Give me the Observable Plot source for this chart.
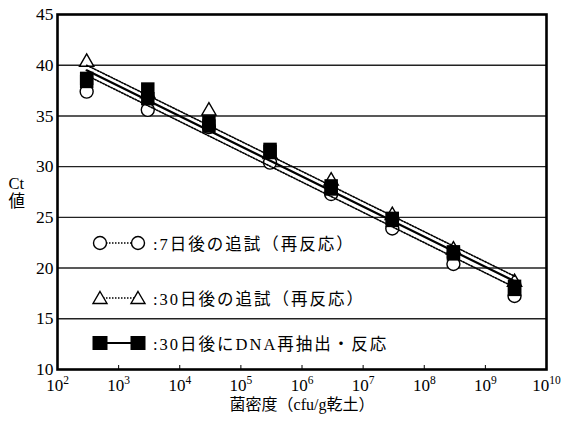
<!DOCTYPE html>
<html><head><meta charset="utf-8">
<script src="https://cdn.jsdelivr.net/npm/d3@7"></script>
<script src="https://cdn.jsdelivr.net/npm/@observablehq/plot@0.6"></script>
<style>
body{margin:0;background:#fff;}
#wrap{position:relative;width:563px;height:423px;}
.leg{position:absolute;left:90px;display:flex;align-items:center;font-family:"Liberation Serif","Noto Sans CJK JP",serif;font-size:16.5px;letter-spacing:2px;color:#000;white-space:nowrap;}
.leg svg{display:block;}
</style>
</head><body>
<div id="wrap"></div>
<script>
// Data
const density = [3e2, 3e3, 3e4, 3e5, 3e6, 3e7, 3e8, 3e9];
const ct7day = [37.4, 35.6, 33.9, 30.4, 27.3, 23.9, 20.4, 17.25];
const ct30day = [40.3, 37.2, 35.5, 31.2, 28.6, 25.2, 21.8, 18.6];
const ctReextA = [38.7, 37.65, 34.4, 31.7, 28.1, 24.9, 21.6, 18.2];
const ctReextB = [38.4, 36.7, 34.0, 31.5, 27.8, 24.7, 21.4, 17.9];
const fitX = [3e2, 3e9];
const fit7day = [39.0, 18.1];
const fit30day = [40.0, 19.2];
const fitReext = [39.5, 18.7];
const xTicks = [1e2, 1e3, 1e4, 1e5, 1e6, 1e7, 1e8, 1e9, 1e10];
const yTicks = [10, 15, 20, 25, 30, 35, 40, 45];
const gridY = [15, 20, 25, 30, 35, 40];
const legendLabels = [":7日後の追試（再反応）", ":30日後の追試（再反応）", ":30日後にDNA再抽出・反応"];
const xLabel = "菌密度（cfu/g乾土）";
const yLabel = "Ct\n値";

const pts = (ys) => density.map((x, i) => ({x, y: ys[i]}));
const fit = (ys) => fitX.map((x, i) => ({x, y: ys[i]}));

const chart = Plot.plot({
  width: 563, height: 423,
  marginLeft: 57, marginRight: 17, marginTop: 14, marginBottom: 54,
  style: {fontFamily: '"Liberation Serif","Noto Sans CJK JP",serif', background: "white", color: "black"},
  x: {type: "log", domain: [1e2, 1e10]},
  y: {domain: [10, 45]},
  marks: [
    Plot.ruleY(gridY, {stroke: "#222", strokeWidth: 1.4}),
    Plot.axisY({ticks: yTicks, tickSize: 0, tickPadding: 4, fontSize: 17.5, label: null}),
    Plot.axisX({ticks: xTicks, tickSize: -4, tickPadding: 13, fontSize: 17, label: null,
      tickFormat: d => "10^" + Math.round(Math.log10(d))}),
    Plot.text([xLabel], {frameAnchor: "bottom", dy: 40, fontSize: 16, fill: "black"}),
    Plot.text([yLabel], {frameAnchor: "left", dx: -49, fontSize: 16.5, lineHeight: 1.1, fill: "black"}),
    Plot.dot(pts(ct7day), {x: "x", y: "y", r: 6.5, fill: "white", stroke: "black", strokeWidth: 1.4}),
    Plot.dot(pts(ct30day), {x: "x", y: "y", symbol: "triangle", r: 5.3, fill: "white", stroke: "black", strokeWidth: 1.4}),
    Plot.line(fit(fit7day), {x: "x", y: "y", stroke: "black", strokeWidth: 1.6, strokeDasharray: "1.5,1.5"}),
    Plot.line(fit(fit30day), {x: "x", y: "y", stroke: "black", strokeWidth: 1.6, strokeDasharray: "1.5,1.5"}),
    Plot.line(fit(fitReext), {x: "x", y: "y", stroke: "black", strokeWidth: 2.2}),
    Plot.dot(pts(ctReextB), {x: "x", y: "y", symbol: "square", r: 7.6, fill: "black", stroke: "none"}),
    Plot.dot(pts(ctReextA), {x: "x", y: "y", symbol: "square", r: 7.6, fill: "black", stroke: "none"}),
    Plot.frame({stroke: "black", strokeWidth: 2.6})
  ]
});

// superscript exponents on x tick labels
chart.querySelectorAll('g[aria-label="x-axis tick label"] text').forEach(t => {
  const s = t.textContent;
  const m = s.match(/^10\^(\d+)$/);
  if (m) {
    t.textContent = "10";
    const ts = document.createElementNS("http://www.w3.org/2000/svg", "tspan");
    ts.setAttribute("dy", "-7");
    ts.setAttribute("font-size", "11.5");
    ts.textContent = m[1];
    t.appendChild(ts);
  }
});

const wrap = document.getElementById("wrap");
wrap.appendChild(chart);

// legend overlay
const NS = "http://www.w3.org/2000/svg";
const rows = [
  {top: 231, kind: "circle"},
  {top: 286, kind: "triangle"},
  {top: 331, kind: "square"}
];
rows.forEach((r, i) => {
  const div = document.createElement("div");
  div.className = "leg";
  div.style.top = r.top + "px";
  const svg = document.createElementNS(NS, "svg");
  svg.setAttribute("width", "62"); svg.setAttribute("height", "20");
  const line = document.createElementNS(NS, "line");
  line.setAttribute("x1", "10"); line.setAttribute("x2", "48");
  line.setAttribute("y1", "10"); line.setAttribute("y2", "10");
  line.setAttribute("stroke", "black");
  if (r.kind === "square") { line.setAttribute("stroke-width", "2"); }
  else { line.setAttribute("stroke-width", "1.6"); line.setAttribute("stroke-dasharray", "1.5,1.5"); }
  svg.appendChild(line);
  [10, 48].forEach(cx => {
    let el;
    if (r.kind === "circle") {
      el = document.createElementNS(NS, "circle");
      el.setAttribute("cx", cx); el.setAttribute("cy", 10); el.setAttribute("r", 6.5);
      el.setAttribute("fill", "white"); el.setAttribute("stroke", "black"); el.setAttribute("stroke-width", "1.4");
    } else if (r.kind === "triangle") {
      el = document.createElementNS(NS, "path");
      el.setAttribute("d", `M${cx},3.5L${cx+7},15.5L${cx-7},15.5Z`);
      el.setAttribute("fill", "white"); el.setAttribute("stroke", "black"); el.setAttribute("stroke-width", "1.4");
    } else {
      el = document.createElementNS(NS, "rect");
      el.setAttribute("x", cx - 7.5); el.setAttribute("y", 3); el.setAttribute("width", 15); el.setAttribute("height", 14);
      el.setAttribute("fill", "black");
    }
    svg.appendChild(el);
  });
  div.appendChild(svg);
  const span = document.createElement("span");
  span.textContent = legendLabels[i];
  span.style.marginLeft = "1px";
  div.appendChild(span);
  wrap.appendChild(div);
});
</script>
</body></html>
